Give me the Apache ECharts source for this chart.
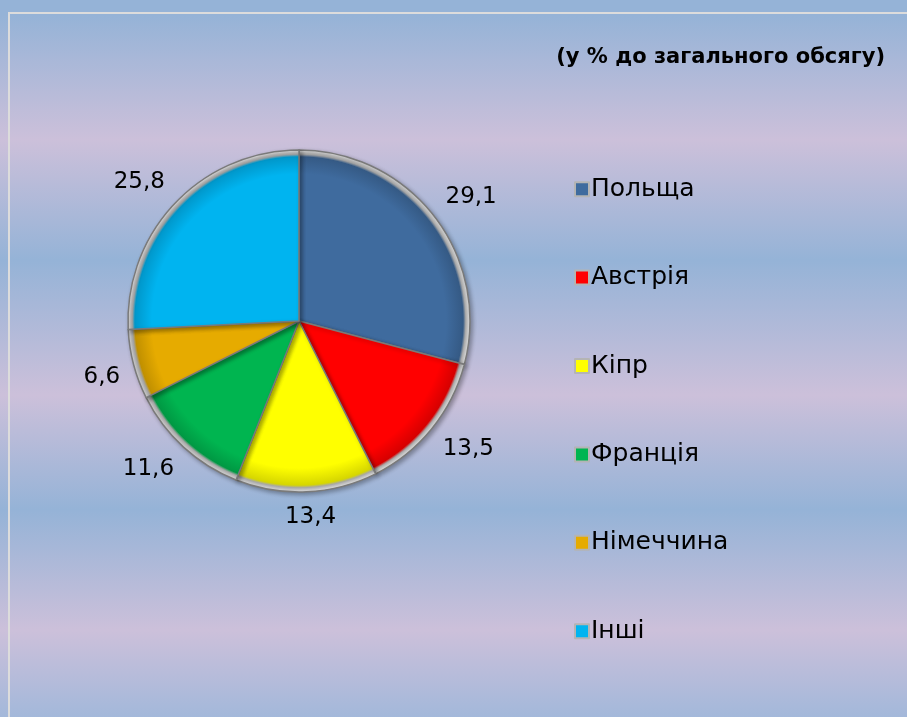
<!DOCTYPE html>
<html>
<head>
<meta charset="utf-8">
<script src="https://cdn.jsdelivr.net/npm/echarts@6/dist/echarts.min.js"></script>
<style>
html,body{margin:0;padding:0;}
#c{width:907px;height:717px;}
</style>
</head>
<body>
<div id="c"></div>
<script>
var categories = ['Польща', 'Австрія', 'Кіпр', 'Франція', 'Німеччина', 'Інші'];
var values = [29.1, 13.5, 13.4, 11.6, 6.6, 25.8];
var colors = ['#3f6b9e', '#ff0000', '#ffff00', '#00b550', '#e6ab00', '#00b4f0'];
var titleText = '(у % до загального обсягу)';

var CX = 299, CY = 321, R = 171, GAP = 14;
var FONT = '"DejaVu Sans", "Open Sans", sans-serif';

function shade(hex, k) {
  var n = parseInt(hex.slice(1), 16);
  var r = (n >> 16) & 255, g = (n >> 8) & 255, b = n & 255;
  r = Math.round(r * k); g = Math.round(g * k); b = Math.round(b * k);
  return 'rgb(' + r + ',' + g + ',' + b + ')';
}

var total = values.reduce(function (a, b) { return a + b; }, 0);

var data = categories.map(function (name, i) {
  var c = colors[i];
  return {
    name: name,
    value: values[i],
    itemStyle: {
      color: {
        type: 'radial', x: CX, y: CY, r: R, global: true,
        colorStops: [
          { offset: 0, color: c },
          { offset: 0.86, color: c },
          { offset: 0.96, color: shade(c, 0.84) },
          { offset: 0.975, color: '#a8a8a8' },
          { offset: 1, color: '#e6e6e6' }
        ]
      }
    }
  };
});

var legendData = categories.map(function (name, i) {
  return { name: name, itemStyle: { color: colors[i] } };
});

var chart = echarts.init(document.getElementById('c'));
chart.setOption({
  backgroundColor: new echarts.graphic.LinearGradient(0, 0, 0, 1, [
    { offset: 0, color: '#95b3d7' },
    { offset: 0.02, color: '#95b3d7' },
    { offset: 0.195, color: '#ccc0da' },
    { offset: 0.363, color: '#95b3d7' },
    { offset: 0.551, color: '#ccc0da' },
    { offset: 0.711, color: '#95b3d7' },
    { offset: 0.879, color: '#ccc0da' },
    { offset: 1, color: '#a3b8da' }
  ]),
  graphic: [{
    type: 'rect',
    z: -1,
    shape: { x: 9, y: 13, width: 1000, height: 1000 },
    style: { fill: 'none', stroke: '#dcdcdc', lineWidth: 2 }
  }],
  title: {
    text: titleText,
    right: 17,
    top: 42,
    textStyle: { fontFamily: FONT, fontSize: 21, fontWeight: 'bold', color: '#000' }
  },
  legend: {
    orient: 'vertical',
    left: 569,
    top: 171,
    itemGap: 62,
    itemWidth: 14,
    itemHeight: 14,
    icon: 'rect',
    itemStyle: { borderColor: '#b4b4b4', borderWidth: 2 },
    textStyle: { fontFamily: FONT, fontSize: 25, color: '#000', lineHeight: 26.4, padding: [0, 0, 0, -3] },
    data: legendData
  },
  series: [{
    type: 'pie',
    center: [CX, CY],
    radius: R,
    startAngle: 90,
    clockwise: true,
    animation: false,
    data: data,
    itemStyle: {
      borderColor: '#7a7a7a',
      borderWidth: 1.5,
      shadowBlur: 4,
      shadowOffsetX: 2,
      shadowOffsetY: 2,
      shadowColor: 'rgba(0,0,0,0.3)'
    },
    emphasis: { disabled: true },
    label: {
      show: true,
      position: 'outside',
      fontFamily: FONT,
      fontSize: 23,
      color: '#000',
      formatter: function (p) { return String(p.value).replace('.', ','); }
    },
    labelLine: { show: false },
    labelLayout: function (p) {
      var i = p.dataIndex;
      var before = 0;
      for (var k = 0; k < i; k++) before += values[k];
      var frac = (before + values[i] / 2) / total;
      var m = (90 - 360 * frac) * Math.PI / 180;
      var ux = Math.cos(m), uy = -Math.sin(m);
      var d = R + GAP;
      var px = CX + ux * d, py = CY + uy * d;
      var w = p.labelRect.width, h = p.labelRect.height;
      var fx = Math.max(-1, Math.min(1, ux * 3));
      var fy = Math.max(-1, Math.min(1, uy * 3));
      return { x: px + fx * w / 2, y: py + fy * h / 2, align: 'center', verticalAlign: 'middle' };
    }
  }]
});
</script>
</body>
</html>
